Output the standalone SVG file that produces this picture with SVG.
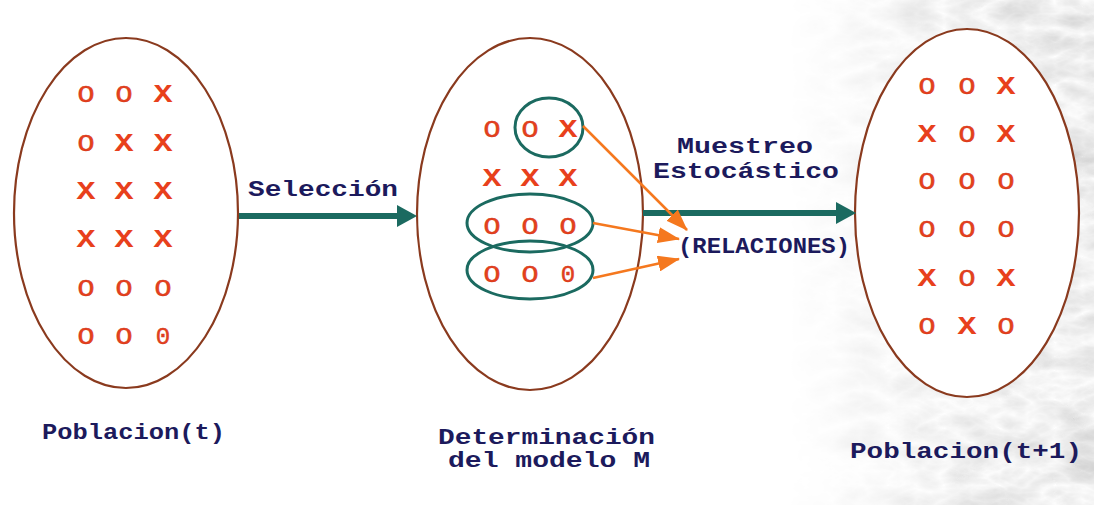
<svg xmlns="http://www.w3.org/2000/svg" width="1094" height="505" viewBox="0 0 1094 505">
  <defs>
    <style>
      .pop { fill: #ffffff; stroke: #8a3a1e; stroke-width: 2.2; }
      .grp { fill: none; stroke: #1b6a60; stroke-width: 3; }
      .x { font-family: "Liberation Mono", "DejaVu Sans Mono", monospace; font-size: 25px; font-weight: 700; fill: #e8401c; text-anchor: middle; }
      .o { font-family: "Liberation Mono", "DejaVu Sans Mono", monospace; font-size: 24px; font-weight: 400; fill: #e8401c; stroke: #d03a1c; stroke-width: 0.5; text-anchor: middle; }
      .lbl { font-family: "Liberation Mono", "DejaVu Sans Mono", monospace; font-size: 22px; font-weight: 700; fill: #1c1a5c; }
      .flow { stroke: #1b6a60; stroke-width: 6; fill: none; }
      .head { fill: #1b6a60; }
      .rel { stroke: #f5781e; stroke-width: 2.5; fill: none; marker-end: url(#orangeHead); }
    </style>
    <marker id="orangeHead" markerUnits="userSpaceOnUse" markerWidth="22" markerHeight="16" refX="21" refY="8" orient="auto">
      <path d="M0,0 L22,8 L0,16 z" fill="#f5781e"/>
    </marker>
    <filter id="marble" x="0" y="0" width="100%" height="100%">
      <feTurbulence type="turbulence" baseFrequency="0.018 0.035" numOctaves="4" seed="7"/>
      <feColorMatrix type="matrix" values="-0.4 0 0 0 0.99  -0.4 0 0 0 0.99  -0.4 0 0 0 0.99  0 0 0 0 1"/>
    </filter>
    <linearGradient id="fadeIn" x1="0" y1="0" x2="1" y2="0">
      <stop offset="0.72" stop-color="#000"/>
      <stop offset="0.92" stop-color="#fff"/>
    </linearGradient>
    <mask id="rightSide">
      <rect x="0" y="0" width="1094" height="505" fill="url(#fadeIn)"/>
    </mask>
  </defs>

  <!-- backdrop: white slide with a marbled gray edge on the right -->
  <rect x="0" y="0" width="1094" height="505" fill="#ffffff"/>
  <rect x="0" y="0" width="1094" height="505" filter="url(#marble)" mask="url(#rightSide)"/>

  <!-- population at time t -->
  <g id="poblacion-t">
    <ellipse class="pop" cx="126" cy="213" rx="112" ry="175"/>
    <text class="o" x="86" y="102" textLength="17" lengthAdjust="spacingAndGlyphs">O</text><text class="o" x="124" y="102" textLength="17" lengthAdjust="spacingAndGlyphs">O</text><text class="x" x="163" y="102" textLength="19" lengthAdjust="spacingAndGlyphs">X</text>
    <text class="o" x="86" y="151" textLength="17" lengthAdjust="spacingAndGlyphs">O</text><text class="x" x="124" y="151" textLength="19" lengthAdjust="spacingAndGlyphs">X</text><text class="x" x="163" y="151" textLength="19" lengthAdjust="spacingAndGlyphs">X</text>
    <text class="x" x="86" y="199" textLength="19" lengthAdjust="spacingAndGlyphs">X</text><text class="x" x="124" y="199" textLength="19" lengthAdjust="spacingAndGlyphs">X</text><text class="x" x="163" y="199" textLength="19" lengthAdjust="spacingAndGlyphs">X</text>
    <text class="x" x="86" y="247" textLength="19" lengthAdjust="spacingAndGlyphs">X</text><text class="x" x="124" y="247" textLength="19" lengthAdjust="spacingAndGlyphs">X</text><text class="x" x="163" y="247" textLength="19" lengthAdjust="spacingAndGlyphs">X</text>
    <text class="o" x="86" y="296" textLength="17" lengthAdjust="spacingAndGlyphs">O</text><text class="o" x="124" y="296" textLength="17" lengthAdjust="spacingAndGlyphs">O</text><text class="o" x="163" y="296" textLength="17" lengthAdjust="spacingAndGlyphs">O</text>
    <text class="o" x="86" y="344" textLength="17" lengthAdjust="spacingAndGlyphs">O</text><text class="o" x="124" y="344" textLength="17" lengthAdjust="spacingAndGlyphs">O</text><text class="o" x="163" y="344">0</text>
    <text class="lbl" x="42" y="439" textLength="183" lengthAdjust="spacingAndGlyphs">Poblacion(t)</text>
  </g>

  <!-- model building step -->
  <g id="modelo-m">
    <ellipse class="pop" cx="530" cy="214" rx="113" ry="176"/>
    <ellipse class="grp" cx="549" cy="127.5" rx="34" ry="29.5"/>
    <ellipse class="grp" cx="530" cy="223" rx="63" ry="29"/>
    <ellipse class="grp" cx="530" cy="270" rx="63" ry="29"/>
    <text class="o" x="492" y="137" textLength="17" lengthAdjust="spacingAndGlyphs">O</text><text class="o" x="530" y="137" textLength="17" lengthAdjust="spacingAndGlyphs">O</text><text class="x" x="568" y="137" textLength="19" lengthAdjust="spacingAndGlyphs">X</text>
    <text class="x" x="492" y="186" textLength="19" lengthAdjust="spacingAndGlyphs">X</text><text class="x" x="530" y="186" textLength="19" lengthAdjust="spacingAndGlyphs">X</text><text class="x" x="568" y="186" textLength="19" lengthAdjust="spacingAndGlyphs">X</text>
    <text class="o" x="492" y="234" textLength="17" lengthAdjust="spacingAndGlyphs">O</text><text class="o" x="530" y="234" textLength="17" lengthAdjust="spacingAndGlyphs">O</text><text class="o" x="568" y="234" textLength="17" lengthAdjust="spacingAndGlyphs">O</text>
    <text class="o" x="492" y="282" textLength="17" lengthAdjust="spacingAndGlyphs">O</text><text class="o" x="530" y="282" textLength="17" lengthAdjust="spacingAndGlyphs">O</text><text class="o" x="568" y="282">0</text>
    <text class="lbl" x="438" y="444" font-size="19.5" textLength="217" lengthAdjust="spacingAndGlyphs">Determinación</text>
    <text class="lbl" x="448" y="467" font-size="19.5" textLength="202" lengthAdjust="spacingAndGlyphs">del modelo M</text>
  </g>

  <!-- population at time t+1 -->
  <g id="poblacion-t1">
    <ellipse class="pop" cx="967" cy="213" rx="112" ry="184"/>
    <text class="o" x="927" y="94" textLength="17" lengthAdjust="spacingAndGlyphs">O</text><text class="o" x="967" y="94" textLength="17" lengthAdjust="spacingAndGlyphs">O</text><text class="x" x="1006" y="94" textLength="19" lengthAdjust="spacingAndGlyphs">X</text>
    <text class="x" x="927" y="142" textLength="19" lengthAdjust="spacingAndGlyphs">X</text><text class="o" x="967" y="142" textLength="17" lengthAdjust="spacingAndGlyphs">O</text><text class="x" x="1006" y="142" textLength="19" lengthAdjust="spacingAndGlyphs">X</text>
    <text class="o" x="927" y="189" textLength="17" lengthAdjust="spacingAndGlyphs">O</text><text class="o" x="967" y="189" textLength="17" lengthAdjust="spacingAndGlyphs">O</text><text class="o" x="1006" y="189" textLength="17" lengthAdjust="spacingAndGlyphs">O</text>
    <text class="o" x="927" y="237" textLength="17" lengthAdjust="spacingAndGlyphs">O</text><text class="o" x="967" y="237" textLength="17" lengthAdjust="spacingAndGlyphs">O</text><text class="o" x="1006" y="237" textLength="17" lengthAdjust="spacingAndGlyphs">O</text>
    <text class="x" x="927" y="286" textLength="19" lengthAdjust="spacingAndGlyphs">X</text><text class="o" x="967" y="286" textLength="17" lengthAdjust="spacingAndGlyphs">O</text><text class="x" x="1006" y="286" textLength="19" lengthAdjust="spacingAndGlyphs">X</text>
    <text class="o" x="927" y="334" textLength="17" lengthAdjust="spacingAndGlyphs">O</text><text class="x" x="967" y="334" textLength="19" lengthAdjust="spacingAndGlyphs">X</text><text class="o" x="1006" y="334" textLength="17" lengthAdjust="spacingAndGlyphs">O</text>
    <text class="lbl" x="850" y="458" textLength="232" lengthAdjust="spacingAndGlyphs">Poblacion(t+1)</text>
  </g>

  <!-- relations target label -->
  <g id="relaciones">
    <text class="lbl" x="678" y="253" font-size="20" textLength="172" lengthAdjust="spacingAndGlyphs">(RELACIONES)</text>
  </g>

  <!-- connectors -->
  <g id="connectors">
    <line class="flow" x1="239" y1="216" x2="399" y2="216"/>
    <polygon class="head" points="397,205 417,216 397,227"/>
    <text class="lbl" x="248" y="196" textLength="150" lengthAdjust="spacingAndGlyphs">Selección</text>

    <line class="flow" x1="643" y1="213" x2="838" y2="213"/>
    <polygon class="head" points="836,202 856,213 836,224"/>
    <text class="lbl" x="677" y="153" textLength="136" lengthAdjust="spacingAndGlyphs">Muestreo</text>
    <text class="lbl" x="653" y="178" textLength="186" lengthAdjust="spacingAndGlyphs">Estocástico</text>

    <line class="rel" x1="583" y1="126" x2="687" y2="230"/>
    <line class="rel" x1="593" y1="223" x2="679" y2="239"/>
    <line class="rel" x1="593" y1="278" x2="679" y2="259"/>
  </g>
</svg>
